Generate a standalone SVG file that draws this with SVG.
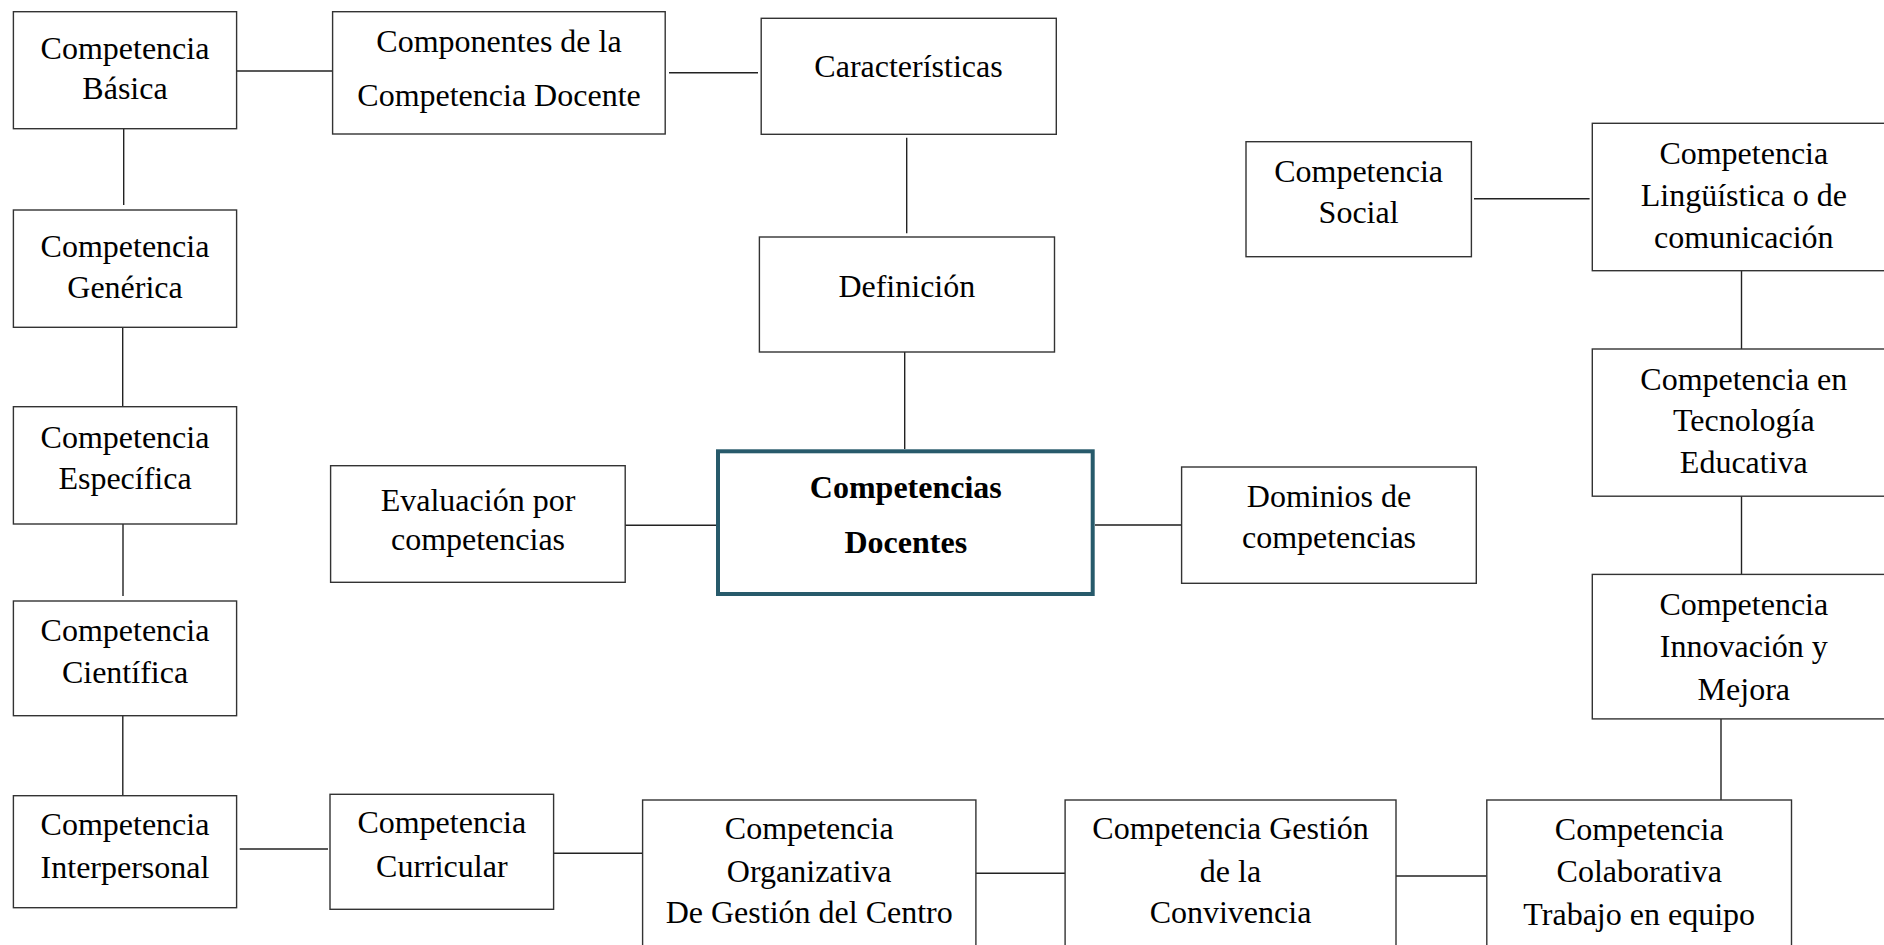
<svg xmlns="http://www.w3.org/2000/svg" width="1884" height="945" viewBox="0 0 1884 945">
<style>
.box{fill:#fff;stroke:#333;stroke-width:1.4}
.main{fill:#fff;stroke:#275a6b;stroke-width:4}
.t{font-family:"Liberation Serif","Times New Roman",serif;font-size:32px;fill:#000;text-anchor:middle}
.b{font-weight:bold}
.c{stroke:#222;stroke-width:1.4;fill:none}
</style>
<rect width="1884" height="945" fill="#fff"/>
<g id="connectors">
<line class="c" x1="237" y1="71" x2="333" y2="71"/>
<line class="c" x1="669" y1="72.7" x2="758" y2="72.7"/>
<line class="c" x1="906.7" y1="137.7" x2="906.7" y2="233.3"/>
<line class="c" x1="904.7" y1="352" x2="904.7" y2="449"/>
<line class="c" x1="625" y1="525.3" x2="716" y2="525.3"/>
<line class="c" x1="1095" y1="525" x2="1181.6" y2="525" style="stroke:#555;stroke-width:2"/>
<line class="c" x1="123.7" y1="128.7" x2="123.7" y2="205"/>
<line class="c" x1="122.7" y1="327.3" x2="122.7" y2="406.7"/>
<line class="c" x1="123" y1="524" x2="123" y2="596"/>
<line class="c" x1="122.8" y1="715.7" x2="122.8" y2="795"/>
<line class="c" x1="239.7" y1="849" x2="328" y2="849"/>
<line class="c" x1="553.6" y1="853.3" x2="643" y2="853.3"/>
<line class="c" x1="976" y1="873.3" x2="1065" y2="873.3"/>
<line class="c" x1="1396" y1="876" x2="1486.8" y2="876"/>
<line class="c" x1="1721" y1="718.9" x2="1721" y2="800.8"/>
<line class="c" x1="1741.5" y1="496" x2="1741.5" y2="574"/>
<line class="c" x1="1741.5" y1="270.7" x2="1741.5" y2="349"/>
<line class="c" x1="1474" y1="198.7" x2="1589.6" y2="198.7"/>
</g>
<g id="basica"><rect class="box" x="13.4" y="11.7" width="223.2" height="117"/>
<text class="t" x="125" y="59">Competencia</text><text class="t" x="125" y="99.3">Básica</text></g>
<g id="componentes"><rect class="box" x="332.6" y="11.7" width="332.6" height="122.3"/>
<text class="t" x="499" y="51.7">Componentes de la</text><text class="t" x="499" y="106">Competencia Docente</text></g>
<g id="caracteristicas"><rect class="box" x="761.2" y="18.3" width="295.1" height="116"/>
<text class="t" x="908.5" y="77.3">Características</text></g>
<g id="definicion"><rect class="box" x="759.4" y="237" width="295.1" height="115"/>
<text class="t" x="906.8" y="296.7">Definición</text></g>
<g id="generica"><rect class="box" x="13.4" y="210" width="223.2" height="117.3"/>
<text class="t" x="125" y="256.7">Competencia</text><text class="t" x="125" y="297.7">Genérica</text></g>
<g id="especifica"><rect class="box" x="13.4" y="406.7" width="223.2" height="117.3"/>
<text class="t" x="125" y="447.7">Competencia</text><text class="t" x="125" y="489.3">Específica</text></g>
<g id="cientifica"><rect class="box" x="13.4" y="601" width="223.2" height="114.7"/>
<text class="t" x="125" y="640.7">Competencia</text><text class="t" x="125" y="683.3">Científica</text></g>
<g id="interpersonal"><rect class="box" x="13.4" y="795.7" width="223.2" height="112"/>
<text class="t" x="125" y="835">Competencia</text><text class="t" x="125" y="878.3">Interpersonal</text></g>
<g id="curricular"><rect class="box" x="330" y="794.3" width="223.6" height="115"/>
<text class="t" x="441.8" y="833.3">Competencia</text><text class="t" x="441.8" y="876.7">Curricular</text></g>
<g id="organizativa"><rect class="box" x="642.6" y="800" width="333.3" height="160"/>
<text class="t" x="809.2" y="839.3">Competencia</text><text class="t" x="809.2" y="881.7">Organizativa</text><text class="t" x="809.2" y="923.3">De Gestión del Centro</text></g>
<g id="convivencia"><rect class="box" x="1065.1" y="800" width="330.9" height="160"/>
<text class="t" x="1230.5" y="839.3">Competencia Gestión</text><text class="t" x="1230.5" y="881.7">de la</text><text class="t" x="1230.5" y="923.3">Convivencia</text></g>
<g id="colaborativa"><rect class="box" x="1486.8" y="800" width="304.7" height="160"/>
<text class="t" x="1639.2" y="839.6">Competencia</text><text class="t" x="1639.2" y="881.7">Colaborativa</text><text class="t" x="1639.2" y="924.8">Trabajo en equipo</text></g>
<g id="evaluacion"><rect class="box" x="330.6" y="465.7" width="294.6" height="116.6"/>
<text class="t" x="478" y="510.7">Evaluación por</text><text class="t" x="478" y="550">competencias</text></g>
<g id="central"><rect class="main" x="718" y="451.3" width="374.7" height="142.7"/>
<text class="t b" x="905.8" y="498.3">Competencias</text><text class="t b" x="905.8" y="553.3">Docentes</text></g>
<g id="dominios"><rect class="box" x="1181.6" y="467" width="294.7" height="116.3"/>
<text class="t" x="1329" y="507.3">Dominios de</text><text class="t" x="1329" y="548.3">competencias</text></g>
<g id="social"><rect class="box" x="1246" y="141.7" width="225.4" height="115"/>
<text class="t" x="1358.6" y="181.7">Competencia</text><text class="t" x="1358.6" y="223.3">Social</text></g>
<g id="linguistica"><rect class="box" x="1592.3" y="123.3" width="310" height="147.4"/>
<text class="t" x="1743.8" y="163.6">Competencia</text><text class="t" x="1743.8" y="205.7">Lingüística o de</text><text class="t" x="1743.8" y="248.2">comunicación</text></g>
<g id="tecnologia"><rect class="box" x="1592.3" y="349" width="310" height="147.2"/>
<text class="t" x="1743.8" y="389.5">Competencia en</text><text class="t" x="1743.8" y="430.5">Tecnología</text><text class="t" x="1743.8" y="473">Educativa</text></g>
<g id="innovacion"><rect class="box" x="1592.3" y="574.4" width="310" height="144.5"/>
<text class="t" x="1743.8" y="614.8">Competencia</text><text class="t" x="1743.8" y="656.9">Innovación y</text><text class="t" x="1743.8" y="699.5">Mejora</text></g>
</svg>
